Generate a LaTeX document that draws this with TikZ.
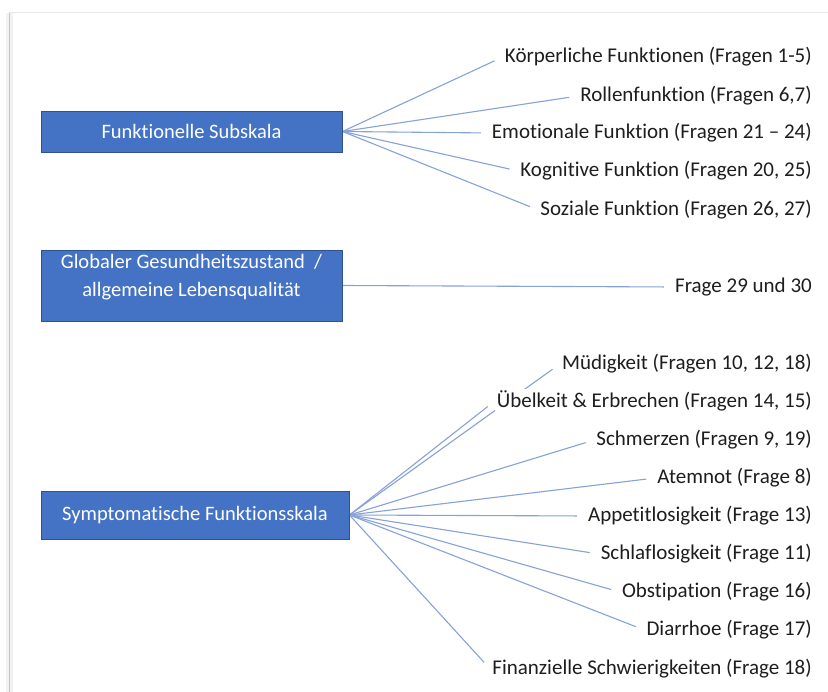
\documentclass[tikz,border=0pt]{standalone}
\usepackage{tikz}
\usepackage{fontspec}
\setmainfont{Carlito}[Ligatures={NoCommon}]
\definecolor{boxblue}{RGB}{68,114,196}
\definecolor{boxborder}{RGB}{47,82,143}
\definecolor{linkblue}{RGB}{134,162,216}
\definecolor{txt}{RGB}{30,30,30}
\pgfdeclarelayer{bg}
\pgfsetlayers{bg,main}
\begin{document}
\begin{tikzpicture}[x=1pt,y=-1pt,
  box/.style={draw=boxborder, line width=0.9pt, fill=boxblue, text=white, inner sep=0pt, align=center, font=\fontsize{20.5}{27}\selectfont},
  boxtext/.style={text=white, inner sep=0pt, align=center, font=\fontsize{20.5}{28}\selectfont},
  lbl/.style={anchor=east, fill=white, inner sep=2pt, text=txt, font=\fontsize{21}{24}\selectfont},
  conn/.style={draw=linkblue, line width=1.1pt, shorten >=9pt}]
\useasboundingbox (0,0) rectangle (828,692);

% boxes
\node[box, minimum width=301pt, minimum height=41pt] (fs) at (191.5,131.5) {Funktionelle Subskala};
\node[box, minimum width=301pt, minimum height=71pt] (gg) at (191.5,285.5) {};
\node[boxtext] (ggt) at ([yshift=8pt]gg.center) {Globaler Gesundheitszustand~~/\\allgemeine Lebensqualität};
\node[box, minimum width=308pt, minimum height=48pt] (sf) at (195,515) {Symptomatische Funktionsskala};

% labels
\node[lbl] (a1) at (814,57) {Körperliche Funktionen (Fragen 1-5)};
\node[lbl] (a2) at (814,96) {Rollenfunktion (Fragen 6,7)};
\node[lbl] (a3) at (814,133) {Emotionale Funktion (Fragen 21 – 24)};
\node[lbl] (a4) at (814,171) {Kognitive Funktion (Fragen 20, 25)};
\node[lbl] (a5) at (814,210) {Soziale Funktion (Fragen 26, 27)};

\node[lbl] (b1) at (814,287) {Frage 29 und 30};

\node[lbl] (c1) at (814,364) {Müdigkeit (Fragen 10, 12, 18)};
\node[lbl] (c2) at (814,401) {Übelkeit \& Erbrechen (Fragen 14, 15)};
\node[lbl] (c3) at (814,440) {Schmerzen (Fragen 9, 19)};
\node[lbl] (c4) at (814,478) {Atemnot (Frage 8)};
\node[lbl] (c5) at (814,516) {Appetitlosigkeit (Frage 13)};
\node[lbl] (c6) at (814,554) {Schlaflosigkeit (Frage 11)};
\node[lbl] (c7) at (814,592) {Obstipation (Frage 16)};
\node[lbl] (c8) at (814,630) {Diarrhoe (Frage 17)};
\node[lbl] (c9) at (814,669) {Finanzielle Schwierigkeiten (Frage 18)};

\begin{pgfonlayer}{bg}
  \fill[white] (0,0) rectangle (828,692);
  % page frame
  \fill[gray!10] (6,13) rectangle (13,692);
  \draw[gray!45, line width=1.6pt] (9.5,13) -- (9.5,692);
  \draw[gray!18, line width=1pt] (9,12.5) -- (828,12.5);
  % connectors
  \foreach \t in {a1,a2,a3,a4,a5} \draw[conn] (fs.east) -- (\t.west);
  \draw[conn] (gg.east) -- (b1.west);
  \foreach \t in {c1,c2,c3,c4,c5,c6,c7,c8,c9} \draw[conn] (sf.east) -- (\t.west);
\end{pgfonlayer}
\end{tikzpicture}
\end{document}
